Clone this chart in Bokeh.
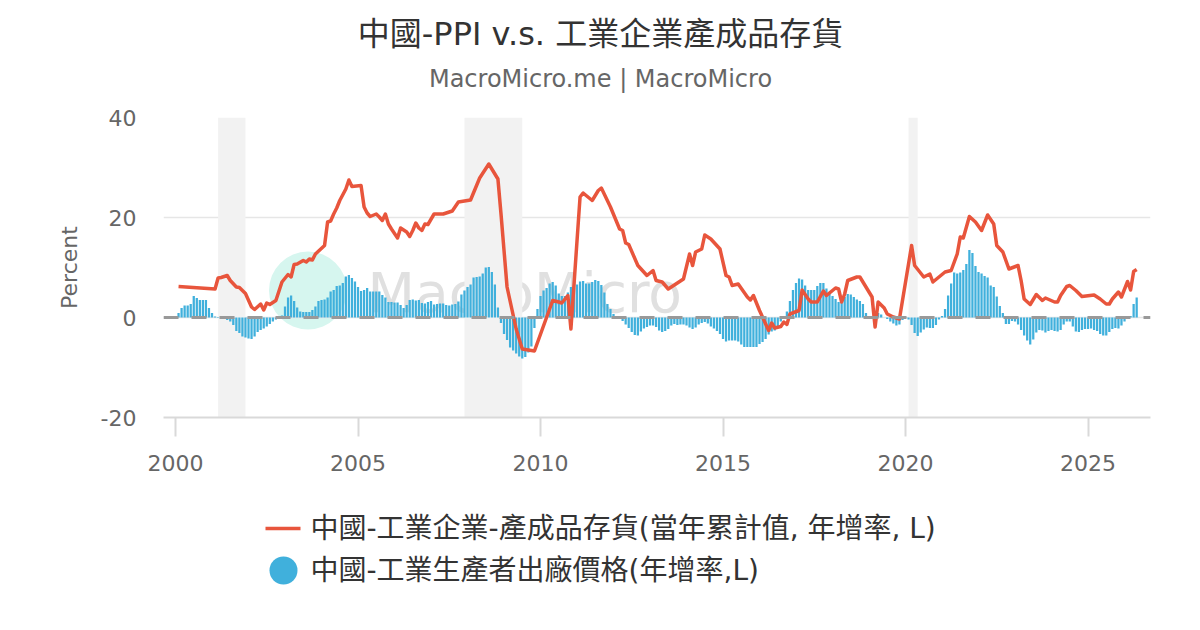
from bokeh.plotting import figure
from bokeh.models import Range1d, FixedTicker, Span, BoxAnnotation
from bokeh.layouts import column
from bokeh.embed import file_html
from bokeh.resources import INLINE
from bokeh.core.properties import value

FONT = "DejaVu Sans, Noto Sans CJK TC"

TITLE = "中國-PPI v.s. 工業企業產成品存貨"
SUBTITLE = "MacroMicro.me | MacroMicro"
INV_LABEL = "中國-工業企業-產成品存貨(當年累計值, 年增率, L)"
PPI_LABEL = "中國-工業生產者出廠價格(年增率,L)"
Y_LABEL = "Percent"
WATERMARK = "MacroMicro"

x_ticks = [2000, 2005, 2010, 2015, 2020, 2025]
y_ticks = [-20, 0, 20, 40]
y_tick_labels = {-20: "-20", 0: "0", 20: "20", 40: "40"}

rec_start = ["2001-03", "2007-12", "2020-02"]
rec_end = ["2001-11", "2009-06", "2020-04"]

# China PPI YoY, monthly from 2000-01
ppi_start = 2000
ppi_2000 = [0.1, 0.9, 1.9, 2.4, 2.4, 2.7, 4.3, 3.9, 3.5, 3.5, 3.5, 1.9]
ppi_2001 = [0.9, 0.2, -0.1, -0.2, -0.3, -0.5, -0.8, -1.5, -2.7, -3.1, -3.8, -4.0]
ppi_2002 = [-4.2, -4.3, -3.8, -2.9, -2.5, -2.2, -1.8, -1.3, -0.8, -0.4, -0.2, 0.4]
ppi_2003 = [2.2, 4.0, 4.4, 3.3, 2.0, 1.2, 1.1, 1.1, 1.1, 1.5, 2.2, 3.3]
ppi_2004 = [3.5, 3.6, 4.0, 5.2, 5.5, 6.3, 6.4, 6.9, 8.2, 8.5, 7.9, 7.2]
ppi_2005 = [6.1, 5.3, 5.5, 5.9, 5.2, 5.2, 5.2, 5.2, 4.5, 4.0, 3.1, 3.1]
ppi_2006 = [3.0, 3.0, 2.5, 1.9, 2.5, 3.5, 3.6, 3.4, 3.5, 2.9, 2.8, 3.1]
ppi_2007 = [3.3, 2.6, 2.7, 2.8, 2.8, 2.5, 2.4, 2.6, 2.7, 3.2, 4.6, 5.4]
ppi_2008 = [6.1, 6.6, 8.0, 8.1, 8.2, 8.8, 10.0, 10.1, 9.1, 6.6, 2.0, -1.1]
ppi_2009 = [-3.3, -4.5, -6.0, -6.6, -7.2, -7.8, -8.2, -7.9, -7.0, -5.8, -2.1, 1.7]
ppi_2010 = [4.3, 5.4, 5.9, 6.8, 7.1, 6.4, 4.8, 4.3, 4.3, 5.0, 6.1, 5.9]
ppi_2011 = [6.6, 7.2, 7.3, 6.8, 6.8, 7.1, 7.5, 7.3, 6.5, 5.0, 2.7, 1.7]
ppi_2012 = [0.7, 0.0, -0.3, -0.7, -1.4, -2.1, -2.9, -3.5, -3.6, -2.8, -2.2, -1.9]
ppi_2013 = [-1.6, -1.6, -1.9, -2.6, -2.9, -2.7, -2.3, -1.6, -1.3, -1.5, -1.4, -1.4]
ppi_2014 = [-1.6, -2.0, -2.3, -2.0, -1.4, -1.1, -0.9, -1.2, -1.8, -2.2, -2.7, -3.3]
ppi_2015 = [-4.3, -4.8, -4.6, -4.6, -4.6, -4.8, -5.4, -5.9, -5.9, -5.9, -5.9, -5.9]
ppi_2016 = [-5.3, -4.9, -4.3, -3.4, -2.8, -2.6, -1.7, -0.8, 0.1, 1.2, 3.3, 5.5]
ppi_2017 = [6.9, 7.8, 7.6, 6.4, 5.5, 5.5, 5.5, 6.3, 6.9, 6.9, 5.8, 4.9]
ppi_2018 = [4.3, 3.7, 3.1, 3.4, 4.1, 4.7, 4.6, 4.1, 3.6, 3.3, 2.7, 0.9]
ppi_2019 = [0.1, 0.1, 0.4, 0.9, 0.6, 0.0, -0.3, -0.8, -1.2, -1.6, -1.4, -0.5]
ppi_2020 = [0.1, -0.4, -1.5, -3.1, -3.7, -3.0, -2.4, -2.0, -2.1, -2.1, -1.5, -0.4]
ppi_2021 = [0.3, 1.7, 4.4, 6.8, 9.0, 8.8, 9.0, 9.5, 10.7, 13.5, 12.9, 10.3]
ppi_2022 = [9.1, 8.8, 8.3, 8.0, 6.4, 6.1, 4.2, 2.3, 0.9, -1.3, -1.3, -0.7]
ppi_2023 = [-0.8, -1.4, -2.5, -3.6, -4.6, -5.4, -4.4, -3.0, -2.5, -2.6, -3.0, -2.7]
ppi_2024 = [-2.5, -2.7, -2.8, -2.5, -1.4, -0.8, -0.8, -1.8, -2.8, -2.9, -2.5, -2.3]
ppi_2025 = [-2.3, -2.2, -2.5, -2.7, -3.3, -3.6, -3.6, -2.9, -2.3, -2.1, -2.2, -1.6]
ppi_2026 = [-0.8, -0.3, 0.3, 2.7, 4.0]

ppi_years = [ppi_2000, ppi_2001, ppi_2002, ppi_2003, ppi_2004, ppi_2005, ppi_2006,
             ppi_2007, ppi_2008, ppi_2009, ppi_2010, ppi_2011, ppi_2012, ppi_2013,
             ppi_2014, ppi_2015, ppi_2016, ppi_2017, ppi_2018, ppi_2019, ppi_2020,
             ppi_2021, ppi_2022, ppi_2023, ppi_2024, ppi_2025, ppi_2026]

# Industrial enterprises finished goods inventory, YoY (cumulative)
inv_dates = ["2000-02", "2001-02", "2001-03", "2001-04", "2001-06", "2001-07", "2001-09", "2001-10", "2001-12",
             "2002-02", "2002-03", "2002-05", "2002-06", "2002-07", "2002-08", "2002-10", "2002-12",
             "2003-02", "2003-03", "2003-04", "2003-05", "2003-07", "2003-08", "2003-09", "2003-10", "2003-11",
             "2004-02", "2004-03", "2004-04", "2004-05", "2004-06", "2004-07", "2004-09", "2004-10", "2004-11",
             "2005-02", "2005-03", "2005-04", "2005-05", "2005-07", "2005-08", "2005-09", "2005-10", "2005-11", "2005-12",
             "2006-02", "2006-03", "2006-05", "2006-06", "2006-07", "2006-08", "2006-09", "2006-10", "2006-11", "2006-12",
             "2007-02", "2007-05", "2007-08", "2007-10",
             "2008-02", "2008-05", "2008-08", "2008-11", "2008-12",
             "2009-02", "2009-05", "2009-07", "2009-11",
             "2010-05", "2010-07", "2010-08", "2010-10", "2010-11",
             "2011-02", "2011-03", "2011-06", "2011-08", "2011-09", "2011-12",
             "2012-03", "2012-04", "2012-05", "2012-06", "2012-09", "2012-12",
             "2013-02", "2013-03", "2013-05", "2013-07", "2013-12",
             "2014-02", "2014-03", "2014-04", "2014-06", "2014-07", "2014-09", "2014-12",
             "2015-02", "2015-03", "2015-04", "2015-06", "2015-09", "2015-10", "2015-11",
             "2016-01", "2016-04", "2016-05", "2016-06", "2016-08", "2016-09", "2016-10", "2016-11",
             "2017-02", "2017-03", "2017-05", "2017-06", "2017-08", "2017-10", "2017-11",
             "2018-02", "2018-03", "2018-04", "2018-05", "2018-06", "2018-09", "2018-10",
             "2019-02", "2019-03", "2019-04", "2019-06", "2019-07", "2019-09", "2019-11",
             "2020-03", "2020-04", "2020-07", "2020-09", "2020-10", "2020-12",
             "2021-02", "2021-04", "2021-06", "2021-07", "2021-08", "2021-10", "2021-12",
             "2022-02", "2022-04", "2022-06", "2022-07", "2022-09", "2022-11",
             "2023-02", "2023-03", "2023-04", "2023-06", "2023-08", "2023-10", "2023-11",
             "2024-02", "2024-03", "2024-04", "2024-06", "2024-07", "2024-09", "2024-11",
             "2025-03", "2025-05", "2025-07", "2025-08", "2025-09", "2025-11", "2025-12",
             "2026-02", "2026-03", "2026-04", "2026-05"]
inv_yoy = [6.2, 5.7, 7.9, 8.0, 8.4, 7.4, 6.1, 6.0, 4.8,
           2.1, 1.6, 2.7, 1.5, 2.9, 2.6, 3.4, 7.1,
           8.6, 8.1, 10.6, 10.7, 11.4, 11.1, 11.7, 11.5, 12.7,
           14.4, 19.1, 19.3, 20.7, 21.9, 23.4, 25.7, 27.5, 26.2,
           26.4, 22.1, 20.9, 20.2, 20.7, 20.1, 19.4, 20.7, 18.7, 17.7,
           15.9, 17.9, 17.1, 16.2, 17.4, 18.9, 17.9, 17.4, 18.7, 18.6,
           20.7, 20.7, 21.3, 23.1,
           23.5, 27.9, 30.7, 27.7, 20.8,
           6.1, -2.3, -6.3, -6.7,
           3.4, 3.1, 2.9, 4.4, -2.3,
           24.1, 24.9, 23.4, 25.4, 25.9, 22.1,
           17.7, 17.4, 14.9, 14.6, 10.4, 8.4,
           9.4, 7.4, 7.1, 5.7, 7.7,
           12.7, 10.4, 13.1, 13.7, 16.5, 15.7, 13.7,
           8.4, 8.1, 6.4, 6.7, 4.1, 3.5, 4.4,
           1.4, -2.6, -1.1, -2.1, -1.8, -0.9, -1.4, 0.7,
           1.4, 5.5, 3.7, 3.1, 3.1, 5.3, 4.4,
           5.9, 5.7, 3.1, 4.7, 7.4, 8.1, 8.1,
           4.1, -1.9, 3.1, 1.9, 0.7, 0.1, -0.3,
           14.4, 10.4, 8.1, 8.7, 7.1, 8.1,
           9.1, 9.4, 12.7, 16.1, 15.9, 20.2, 19.1,
           17.4, 20.5, 18.7, 14.4, 13.1, 9.7,
           10.4, 7.4, 3.7, 2.6, 4.6, 3.4, 3.9,
           3.1, 3.1, 4.4, 6.2, 6.4, 5.4, 4.2,
           4.5, 3.7, 2.7, 2.7, 3.7, 5.1, 4.1,
           7.2, 5.5, 9.2, 9.6]


def ym(s):
    y, m = s.split("-")
    return int(y) + (int(m) - 1) / 12.0


ppi_x, ppi_y = [], []
for i, vals in enumerate(ppi_years):
    for j, v in enumerate(vals):
        ppi_x.append(ppi_start + i + j / 12.0)
        ppi_y.append(v)

inv_x = [ym(d) for d in inv_dates]

RED = "#e8553c"
BLUE = "#40b0dc"

# page geometry: frame spans x 163..1150
BL, BR = 163, 50


def blank(height):
    f = figure(width=1200, height=height, x_range=Range1d(BL, 1200 - BR),
               y_range=Range1d(height, 0), output_backend="svg", toolbar_location=None,
               min_border_left=BL, min_border_right=BR, min_border_top=0, min_border_bottom=0)
    f.axis.visible = False
    f.grid.visible = False
    f.outline_line_color = None
    f.background_fill_color = "white"
    f.border_fill_color = "white"
    return f


# header with title and subtitle
head = blank(102)
head.text(x=[600], y=[33], text=[TITLE], text_font=value(FONT), text_font_size=value("32px"),
          text_align="center", text_baseline="middle", text_color="#333333")
head.text(x=[600], y=[78], text=[SUBTITLE], text_font=value(FONT), text_font_size=value("24px"),
          text_align="center", text_baseline="middle", text_color="#666666")

# main chart
p = figure(width=1200, height=388, x_range=Range1d(1999.671, 2026.712), y_range=Range1d(-20, 40),
           output_backend="svg", toolbar_location=None,
           min_border_left=BL, min_border_right=BR, min_border_top=15, min_border_bottom=73)
p.outline_line_color = None
p.background_fill_color = "white"
p.border_fill_color = "white"
p.xgrid.visible = False
p.ygrid.ticker = FixedTicker(ticks=y_ticks)
p.ygrid.grid_line_color = "#e6e6e6"
p.ygrid.grid_line_width = 1.5

for s, e in zip(rec_start, rec_end):
    p.add_layout(BoxAnnotation(left=ym(s), right=ym(e) + 1 / 12.0, fill_color="#f2f2f2",
                               fill_alpha=1.0, line_color=None, level="underlay"))

# watermark
p.scatter(x=[2003.63], y=[5.4], size=78, marker="circle", fill_color="#d6f6ef",
          line_color=None, level="underlay")
p.text(x=[2005.26], y=[5.0], text=[WATERMARK], text_font=value("DejaVu Sans"),
       text_font_size=value("55px"), text_color="#e0e0e0", text_baseline="alphabetic",
       text_align="left", level="underlay")

p.vbar(x=ppi_x, top=ppi_y, bottom=0, width=0.062, fill_color=BLUE, line_color=None)
p.line(inv_x, inv_yoy, line_color=RED, line_width=3.5, line_join="round")

p.add_layout(Span(location=0, dimension="width", line_color="#999999", line_width=3,
                  line_dash="15 13"))

p.yaxis.ticker = FixedTicker(ticks=y_ticks)
p.yaxis.major_label_overrides = y_tick_labels
p.yaxis.axis_line_color = None
p.yaxis.major_tick_line_color = None
p.yaxis.major_tick_out = 0
p.yaxis.major_tick_in = 0
p.yaxis.minor_tick_line_color = None
p.yaxis.major_label_text_font_size = "22px"
p.yaxis.major_label_text_color = "#666666"
p.yaxis.major_label_text_font = FONT
p.yaxis.major_label_standoff = 27
p.yaxis.axis_label = Y_LABEL
p.yaxis.axis_label_text_font_size = "22px"
p.yaxis.axis_label_text_font_style = "normal"
p.yaxis.axis_label_text_color = "#666666"
p.yaxis.axis_label_text_font = FONT
p.yaxis.axis_label_standoff = 16

p.xaxis.ticker = FixedTicker(ticks=x_ticks)
p.xaxis.axis_line_color = "#d9d9d9"
p.xaxis.axis_line_width = 2
p.xaxis.major_tick_line_color = "#d9d9d9"
p.xaxis.major_tick_line_width = 2
p.xaxis.major_tick_out = 19
p.xaxis.major_tick_in = 0
p.xaxis.minor_tick_line_color = None
p.xaxis.major_label_text_font_size = "22px"
p.xaxis.major_label_text_color = "#666666"
p.xaxis.major_label_text_font = FONT
p.xaxis.major_label_standoff = 18

# legend panel (page coordinates)
leg = blank(140)
leg.line(x=[265, 300], y=[38, 38], line_color=RED, line_width=3.5)
leg.scatter(x=[283], y=[80], size=28, marker="circle", fill_color=BLUE, line_color=None)
leg.text(x=[310, 310], y=[38, 80], text=[INV_LABEL, PPI_LABEL], text_font=value(FONT),
         text_font_size=value("28px"), text_baseline="middle", text_color="#333333")

layout = column(head, p, leg, spacing=0)
open("out.html", "w").write(file_html(layout, INLINE))
